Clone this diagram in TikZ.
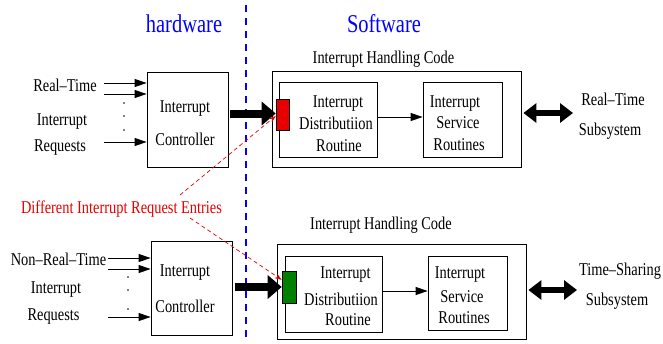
\documentclass[tikz,border=0pt]{standalone}
\usepackage{fontspec}
\setmainfont{Liberation Serif}[FakeStretch=0.8]
\usetikzlibrary{arrows.meta,calc}
\definecolor{hwblue}{RGB}{0,0,255}
\definecolor{entryred}{RGB}{230,0,0}
\definecolor{entrygreen}{RGB}{0,128,0}
\begin{document}
\begin{tikzpicture}[x=1pt,y=-1pt,
  txt/.style={inner sep=0pt,anchor=base,font=\fontsize{18}{20}\selectfont},
  ttl/.style={inner sep=0pt,anchor=base,font=\fontsize{25.6}{28}\selectfont,text=hwblue},
  rbox/.style={draw=black,line width=0.8pt,inner sep=0pt,fill=white},
  inarrow/.style={line width=0.8pt,-{Triangle[length=12pt,width=8pt]}},
  bigarrow/.style={line width=8pt,-{Triangle[length=14pt,width=23pt]}},
  dblarrow/.style={line width=6pt,{Triangle[length=13pt,width=19pt]}-{Triangle[length=13pt,width=19pt]}},
  entryarrow/.style={draw=entryred,line width=0.7pt,dash pattern=on 4pt off 3pt,-{Stealth[length=7pt,width=5pt]}},
  entrybox/.style={draw=black,line width=0.6pt,inner sep=0pt},
  divider/.style={color=hwblue,line width=2pt,dash pattern=on 7pt off 6pt}
]
\useasboundingbox (0,0) rectangle (663,343);

% divider
\coordinate (dtop) at (245.5,5);
\coordinate (dbot) at (245.5,343);
\draw[divider] (dtop) -- (dbot);

\node[ttl] (hw) at (184,32) {hardware};
\node[ttl] (sw) at (384,32) {Software};

% ---------- top row ----------
\node[rbox,minimum width=81pt,minimum height=95pt] (c1) at (187.5,119.5) {};
\node[txt] (c1a) at (185,112) {Interrupt};
\node[txt] (c1b) at (185,145) {Controller};

\node[txt] (l1a) at (65,91) {Real–Time};
\node[txt] (l1b) at (62,125) {Interrupt};
\node[txt] (l1c) at (60,151) {Requests};

\coordinate (i1a) at (104,83);
\coordinate (i1b) at (104,94);
\coordinate (i1c) at (104,142);
\draw[inarrow] (i1a) -- (c1.west |- i1a);
\draw[inarrow] (i1b) -- (c1.west |- i1b);
\draw[inarrow] (i1c) -- (c1.west |- i1c);
\fill (124,103) circle (0.9);
\fill (124,116) circle (0.9);
\fill (124,130) circle (0.9);

\node[txt] (h1) at (383.5,63) {Interrupt Handling Code};
\node[rbox,minimum width=249pt,minimum height=96pt] (o1) at (396.5,119) {};
\node[rbox,minimum width=98pt,minimum height=75pt] (idr1) at (328,119.5) {};
\node[rbox,minimum width=79pt,minimum height=75pt] (isr1) at (462.5,119.5) {};
\node[txt] (idr1a) at (338,107) {Interrupt};
\node[txt] (idr1b) at (336,129) {Distributiion};
\node[txt] (idr1c) at (339,151) {Routine};
\node[txt] (isr1a) at (455,107) {Interrupt};
\node[txt] (isr1b) at (458,128) {Service};
\node[txt] (isr1c) at (459,150) {Routines};
\draw[inarrow] (idr1.east |- 0,117) -- (isr1.west |- 0,117);

\node[entrybox,fill=entryred,minimum width=13pt,minimum height=31pt] (red) at (282.5,114.5) {};
\draw[bigarrow] ($(c1.east |- red.west)+(2,-1)$) -- ($(red.west)+(0,-1)$);

\coordinate (rt) at (573,113);
\draw[dblarrow] ($(o1.east |- rt)+(2,0)$) -- (rt);
\node[txt] (r1a) at (613,105) {Real–Time};
\node[txt] (r1b) at (610,135) {Subsystem};

% ---------- bottom row ----------
\node[rbox,minimum width=81pt,minimum height=94pt] (c2) at (191.5,288) {};
\node[txt] (c2a) at (185,276) {Interrupt};
\node[txt] (c2b) at (185,312) {Controller};

\node[txt] (l2a) at (58.5,265) {Non–Real–Time};
\node[txt] (l2b) at (56,293) {Interrupt};
\node[txt] (l2c) at (53.5,320) {Requests};

\coordinate (i2a) at (108,258);
\coordinate (i2b) at (108,269);
\coordinate (i2c) at (108,317);
\draw[inarrow] (i2a) -- (c2.west |- i2a);
\draw[inarrow] (i2b) -- (c2.west |- i2b);
\draw[inarrow] (i2c) -- (c2.west |- i2c);
\fill (128,277) circle (0.9);
\fill (128,290) circle (0.9);
\fill (128,309) circle (0.9);

\node[txt] (h2) at (381,229) {Interrupt Handling Code};
\node[rbox,minimum width=249pt,minimum height=95pt] (o2) at (401.5,291.5) {};
\node[rbox,minimum width=97pt,minimum height=76pt] (idr2) at (333.5,294) {};
\node[rbox,minimum width=79pt,minimum height=74pt] (isr2) at (467.5,293) {};
\node[txt] (idr2a) at (345.5,278) {Interrupt};
\node[txt] (idr2b) at (341,305) {Distributiion};
\node[txt] (idr2c) at (348,325) {Routine};
\node[txt] (isr2a) at (460,278) {Interrupt};
\node[txt] (isr2b) at (462,302) {Service};
\node[txt] (isr2c) at (464,323) {Routines};
\draw[inarrow] (idr2.east |- 0,291) -- (isr2.west |- 0,291);

\node[entrybox,fill=entrygreen,minimum width=14pt,minimum height=32pt] (green) at (289,287) {};
\draw[bigarrow] ($(c2.east |- green.west)+(3,0)$) -- (green.west);

\coordinate (rb) at (577,290);
\draw[dblarrow] ($(o2.east |- rb)+(2,0)$) -- (rb);
\node[txt] (r2a) at (620,275) {Time–Sharing};
\node[txt] (r2b) at (617,305) {Subsystem};

% ---------- entries label ----------
\node[txt,text=entryred] (lbl) at (121.5,213) {Different Interrupt Request Entries};
\coordinate (s1) at (180,195);
\coordinate (s2) at (190,218);
\draw[entryarrow] (s1) -- ($(red.west)+(0,1.5)$);
\draw[entryarrow] (s2) -- ($(green.north west)!0.28!(green.south west)$);
\end{tikzpicture}
\end{document}
